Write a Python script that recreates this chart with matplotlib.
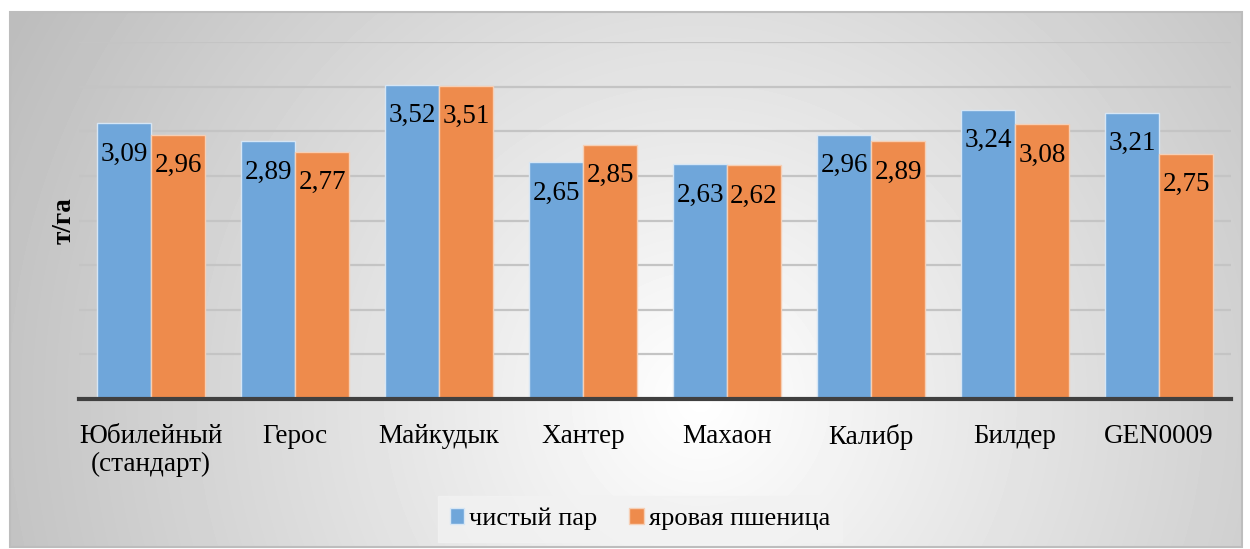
import numpy as np
import matplotlib
matplotlib.use("Agg")
import matplotlib.pyplot as plt
from matplotlib.patches import Rectangle

# Yield by variety and predecessor, t/ha
varieties = ["Юбилейный\n(стандарт)", "Герос", "Майкудык", "Хантер",
             "Махаон", "Калибр", "Билдер", "GEN0009"]
fallow = [3.09, 2.89, 3.52, 2.65, 2.63, 2.96, 3.24, 3.21]
spring_wheat = [2.96, 2.77, 3.51, 2.85, 2.62, 2.89, 3.08, 2.75]
series_names = ["чистый пар", "яровая пшеница"]

blue = "#6FA6DA"
orange = "#EE8B4C"

plt.rcParams["font.family"] = ["Liberation Serif", "DejaVu Serif"]

W, H = 1250, 549
fig = plt.figure(figsize=(W / 100, H / 100), dpi=100)
fig.patch.set_facecolor("white")

# Radial grey-to-white backdrop for the chart panel
px0, py0, px1, py1 = 10, 12, 1242, 547
bg = fig.add_axes([px0 / W, 1 - py1 / H, (px1 - px0) / W, (py1 - py0) / H])
xx, yy = np.meshgrid(np.arange(px0, px1), np.arange(py0, py1))
d = np.hypot((xx - 700) / 1.0, (yy - 400) / 1.0)
shade = np.clip(1.0 - d / 720 * 0.24, 0.74, 1.0)
bg.imshow(shade, cmap="gray", vmin=0, vmax=1, aspect="auto",
          interpolation="bilinear")
bg.set_axis_off()
fig.add_artist(Rectangle((px0 / W, 1 - py1 / H), (px1 - px0) / W,
                         (py1 - py0) / H, transform=fig.transFigure,
                         fill=False, edgecolor="#bdbdbd", linewidth=1.5))

# Main plot area
ax_l, ax_r, ax_t, ax_b = 79, 1231, 42, 399
ax = fig.add_axes([ax_l / W, 1 - ax_b / H, (ax_r - ax_l) / W, (ax_b - ax_t) / H])
ax.patch.set_alpha(0)

x = np.arange(len(varieties))
bw = 0.375
b1 = ax.bar(x - bw / 2, fallow, bw, color=blue, edgecolor="#d6e6f5",
            linewidth=1.0, label=series_names[0], zorder=3)
b2 = ax.bar(x + bw / 2, spring_wheat, bw, color=orange, edgecolor="#f6cfb5",
            linewidth=1.0, label=series_names[1], zorder=3)

for bars, vals in ((b1, fallow), (b2, spring_wheat)):
    for rect, v in zip(bars, vals):
        ax.annotate(f"{v:.2f}".replace(".", ","),
                    (rect.get_x() + rect.get_width() / 2, v),
                    xytext=(0, -31), textcoords="offset pixels",
                    ha="center", va="center", fontsize=19.5, color="black",
                    zorder=4)

ax.set_xlim(-0.5, len(varieties) - 0.5)
ax.set_ylim(0, 4.0)
ax.set_yticks(np.arange(0.5, 4.01, 0.5))
ax.yaxis.grid(True, color="#c4c4c4", linewidth=1.6, zorder=0)
ax.tick_params(axis="y", length=0, labelleft=False)
ax.set_xticks(x)
ax.set_xticklabels(varieties, fontsize=19.5, linespacing=1.15)
ax.tick_params(axis="x", length=0, pad=18)

for s in ("top", "right", "left"):
    ax.spines[s].set_visible(False)
ax.spines["bottom"].set_color("#404040")
ax.spines["bottom"].set_linewidth(3)
ax.spines["bottom"].set_zorder(5)

ax.set_ylabel("т/га", fontsize=19.5, fontweight="bold", labelpad=2)

leg = fig.legend(handles=[b1, b2], labels=series_names, loc="center",
                 bbox_to_anchor=(640 / W, 1 - 519 / H), ncol=2,
                 fontsize=19, frameon=True, fancybox=False,
                 handlelength=0.55, handleheight=0.55, handletextpad=0.2,
                 columnspacing=1.2, borderpad=0.45, borderaxespad=0)
leg.get_frame().set_facecolor("#f2f2f2")
leg.get_frame().set_edgecolor("#f2f2f2")
leg.get_frame().set_alpha(0.8)

fig.savefig("out.png", dpi=100)
